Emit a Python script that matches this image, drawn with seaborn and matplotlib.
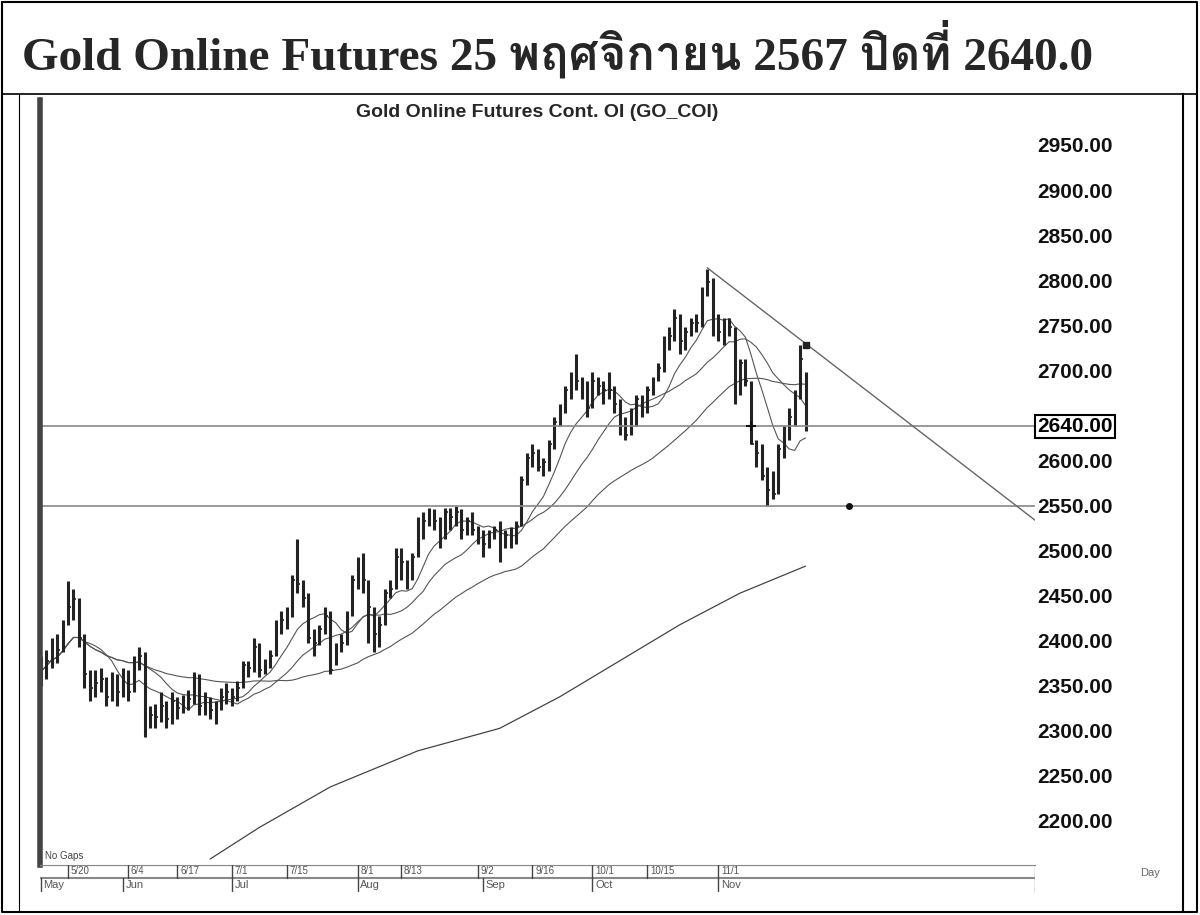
import numpy as np
import pandas as pd
import matplotlib
matplotlib.use("Agg")
import matplotlib.pyplot as plt
from matplotlib import font_manager as fm
import seaborn as sns

close = [2368,2380,2395,2392,2418, 2440,2448,2405,2365,2350, 2355,2360,2340,2355,2345,
 2365,2345,2375,2385,2310, 2320,2318,2330,2315,2335, 2328,2335,2338,2360,2330,
 2335,2325,2322,2340,2345, 2340,2350,2375,2372,2395, 2370,2375,2385,2420,2425,
 2430,2470,2465,2450,2405, 2400,2415,2430,2370,2395, 2400,2430,2470,2480,2470,
 2440,2410,2420,2455,2460, 2495,2490,2475,2495,2535, 2535,2545,2535,2510,2545,
 2540,2545,2525,2535,2525, 2520,2510,2520,2525,2500, 2520,2518,2530,2580,2605,
 2610,2595,2600,2620,2645, 2655,2680,2690,2690,2675, 2660,2690,2685,2680,2680,
 2665,2640,2630,2645,2670, 2660,2680,2690,2705,2735, 2740,2760,2735,2745,2755,
 2755,2790,2800,2750,2745, 2745,2750,2670,2710,2690, 2620,2610,2585,2570,2565,
 2615,2630,2650,2675,2715, 2640]
high = [2385,2392,2405,2410,2425, 2468,2460,2450,2410,2370, 2370,2372,2362,2368,2365,
 2372,2370,2385,2395,2390, 2330,2332,2345,2335,2345, 2340,2342,2348,2368,2365,
 2345,2340,2335,2350,2355, 2350,2358,2380,2380,2405, 2400,2382,2392,2425,2435,
 2440,2475,2515,2470,2455, 2415,2420,2440,2435,2400, 2410,2435,2475,2495,2500,
 2470,2440,2430,2460,2470, 2505,2505,2492,2500,2540, 2545,2550,2548,2540,2550,
 2550,2552,2548,2540,2545, 2530,2525,2525,2530,2535, 2525,2528,2535,2585,2610,
 2620,2615,2605,2625,2650, 2665,2685,2700,2720,2695, 2690,2700,2695,2690,2700,
 2685,2670,2650,2660,2675, 2675,2685,2695,2710,2740, 2750,2770,2765,2750,2760,
 2765,2795,2815,2805,2765, 2760,2760,2750,2715,2715, 2690,2625,2620,2595,2590,
 2620,2640,2660,2680,2730, 2700]
low = [2352,2360,2372,2378,2390, 2420,2425,2395,2350,2335, 2340,2345,2330,2335,2330,
 2340,2335,2345,2370,2295, 2305,2305,2312,2305,2310, 2315,2322,2325,2332,2320,
 2320,2315,2310,2325,2332, 2330,2335,2350,2362,2368, 2362,2365,2372,2385,2410,
 2415,2428,2455,2440,2400, 2385,2398,2410,2365,2375, 2390,2398,2430,2460,2455,
 2400,2390,2395,2420,2450, 2460,2470,2460,2470,2495, 2515,2530,2525,2505,2515,
 2525,2530,2515,2520,2520, 2510,2495,2505,2515,2490, 2505,2505,2510,2530,2575,
 2595,2590,2585,2590,2615, 2640,2655,2670,2680,2670, 2650,2660,2675,2665,2670,
 2655,2630,2625,2630,2640, 2650,2655,2675,2690,2700, 2725,2735,2720,2725,2740,
 2745,2750,2785,2740,2735, 2730,2740,2665,2675,2685, 2620,2595,2580,2552,2560,
 2565,2605,2625,2640,2670, 2635]
dates = pd.bdate_range("2024-05-13", "2024-11-25")

ma200_idx = [31, 40, 53, 69, 84, 95, 106, 117, 128, 140]
ma200_val = [2160, 2195, 2240, 2280, 2305, 2340, 2380, 2420, 2455, 2485]

tick_labels = ["5/20", "6/4", "6/17", "7/1", "7/15", "8/1", "8/13", "9/2", "9/16", "10/1", "10/15", "11/1"]
tick_dates = ["2024-05-20", "2024-06-04", "2024-06-17", "2024-07-01", "2024-07-15", "2024-08-01",
              "2024-08-13", "2024-09-02", "2024-09-16", "2024-10-01", "2024-10-15", "2024-11-01"]
month_labels = ["May", "Jun", "Jul", "Aug", "Sep", "Oct", "Nov"]
month_dates = ["2024-05-13", "2024-06-03", "2024-07-01", "2024-08-01", "2024-09-03", "2024-10-01", "2024-11-01"]
price_ticks = [2200, 2250, 2300, 2350, 2400, 2450, 2500, 2550, 2600, 2700, 2750, 2800, 2850, 2900, 2950]
last_close = 2640

sns.set_style("white")
thai = [f.name for f in fm.fontManager.ttflist if "thai" in f.name.lower() or f.name in ("Loma", "Garuda", "Norasi", "Kinnari", "Sarabun")]
title_fams = ["Liberation Serif"] + thai[:1] + ["DejaVu Serif", "DejaVu Sans"]
plt.rcParams["font.family"] = ["Liberation Sans", "DejaVu Sans"]

fig = plt.figure(figsize=(12, 9.15), dpi=100)
W, H = 1200, 915
def fx(p): return p / W
def fy(p): return 1 - p / H

fig.add_artist(plt.Line2D([fx(2), fx(1197), fx(1197), fx(2), fx(2)], [fy(2), fy(2), fy(912), fy(912), fy(2)], color="black", lw=1.5))
fig.add_artist(plt.Line2D([fx(2), fx(1197)], [fy(94), fy(94)], color="black", lw=1.2))
fig.add_artist(plt.Line2D([fx(1183), fx(1183)], [fy(94), fy(912)], color="black", lw=1.5))
fig.add_artist(plt.Line2D([fx(19), fx(19)], [fy(94), fy(912)], color="black", lw=0.8))
fig.text(fx(22), fy(50), "Gold Online Futures 25 พฤศจิกายน 2567 ปิดที่ 2640.0",
         family=title_fams, fontsize=34, fontweight="bold", va="center", ha="left")

ax = fig.add_axes([fx(40), fy(865), fx(995), (865 - 100) / H])
ppu = 676 / 750.0
ax.set_ylim(2950 - (865 - 147) / ppu, 2950 + (147 - 100) / ppu)
ax.set_xlim(-0.13, 182)

idx = np.arange(len(close))
df = pd.DataFrame({"i": idx, "close": close})
for w in (9, 18, 40):
    df[f"ma{w}"] = df["close"].rolling(w, min_periods=1).mean()
    sns.lineplot(data=df, x="i", y=f"ma{w}", ax=ax, color="#555555", lw=0.8)
sns.lineplot(x=ma200_idx, y=ma200_val, ax=ax, color="#444444", lw=0.9)

ax.vlines(idx, low, high, color="#222222", lw=2.2)
ax.hlines(close, idx, idx + 0.5, color="#222222", lw=1.2)

ax.axhline(2640, color="#888888", lw=1.2)
ax.axhline(2552, color="#888888", lw=1.2)
ax.plot([122, 182], [2816, 2536], color="#666666", lw=1)
ax.plot([140], [2730], "s", color="#222222", ms=4)
ax.plot([148], [2552], "o", color="#111111", ms=4)
ax.plot([130], [2640], "+", color="#111111", ms=7, mew=1.5)

for s in ("top", "right"):
    ax.spines[s].set_visible(False)
ax.spines["left"].set_linewidth(4)
ax.spines["left"].set_color("#444444")
ax.spines["bottom"].set_color("#888888")
ax.set_xticks([]); ax.set_yticks([])
ax.set_xlabel(""); ax.set_ylabel("")

for p in price_ticks:
    ax.text(1.002, p, f"{p:.2f}", transform=ax.get_yaxis_transform(), fontsize=15, fontweight="bold",
            ha="left", va="center", color="#111111", clip_on=False)
ax.text(1.002, last_close, f"{last_close:.2f}", transform=ax.get_yaxis_transform(), fontsize=15, fontweight="bold",
        ha="left", va="center", color="black", clip_on=False,
        bbox=dict(boxstyle="square,pad=0.1", fc="white", ec="black", lw=1.5))
ax.text(0.5, 0.995, "Gold Online Futures Cont. OI (GO_COI)", transform=ax.transAxes, ha="center", va="top",
        fontsize=14, fontweight="bold")
ax.text(0.005, 0.005, "No Gaps", transform=ax.transAxes, fontsize=7, color="#444444", va="bottom")

pos = {d: i for i, d in enumerate(dates)}
sx = fig.add_axes([fx(40), fy(893), fx(995), 28 / H])
sx.set_xlim(ax.get_xlim()); sx.set_ylim(0, 28)
sx.axis("off")
sx.axhline(28, color="#888888", lw=1.5)
sx.axhline(15, color="#888888", lw=1.5)
for lab, d in zip(tick_labels, tick_dates):
    i = pos[pd.Timestamp(d)]
    sx.plot([i, i], [15, 28], color="#444444", lw=1)
    sx.text(i + 0.5, 21.5, lab, fontsize=7, color="#555555", va="center", ha="left")
for lab, d in zip(month_labels, month_dates):
    i = pos[pd.Timestamp(d)]
    sx.plot([i, i], [2, 15], color="#444444", lw=1)
    sx.text(i + 0.5, 8, lab, fontsize=8, color="#555555", va="center", ha="left")
sx.plot([182, 182], [0, 28], color="#888888", lw=1)
fig.text(fx(1160), fy(873), "Day", fontsize=8, color="#666666", ha="right", va="center")

fig.savefig("out.png", dpi=100)
